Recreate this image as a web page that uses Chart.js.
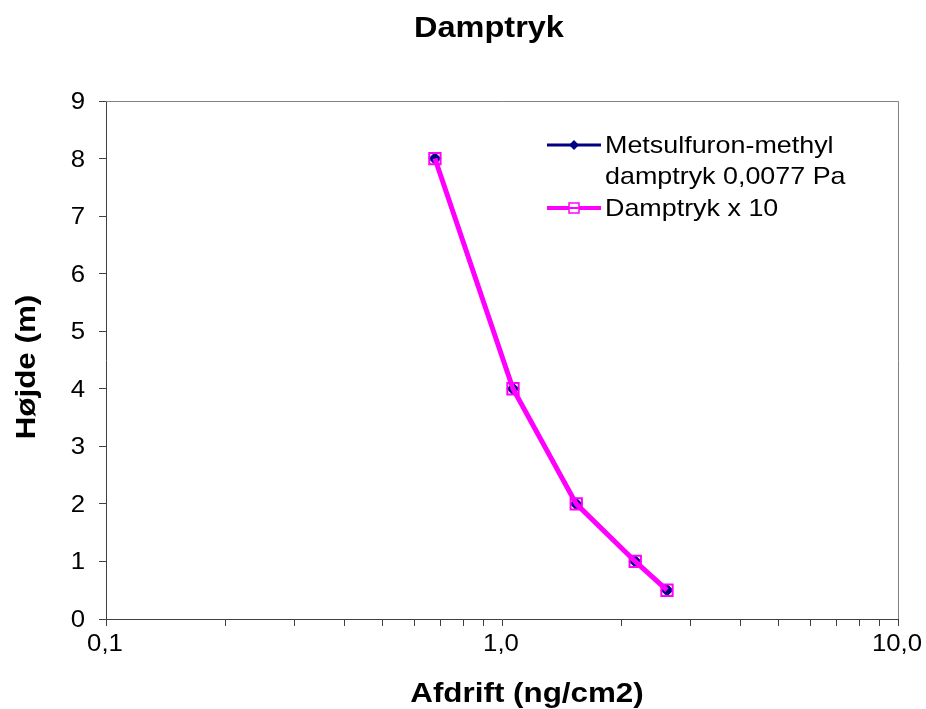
<!DOCTYPE html>
<html>
<head>
<meta charset="utf-8">
<script src="https://cdn.jsdelivr.net/npm/chart.js@4/dist/chart.umd.min.js"></script>
<style>
  html, body { margin: 0; padding: 0; background: #fff; }
  #wrap { width: 926px; height: 709px; }
</style>
</head>
<body>
<div id="wrap"><canvas id="c" width="926" height="709"></canvas></div>
<script>
// Heights (m) and drift values (ng/cm2)
const heights = [0.5, 1, 2, 4, 8];
const driftBase = [2.61, 2.17, 1.54, 1.066, 0.677];
const driftTimes10 = [2.61, 2.17, 1.54, 1.066, 0.677];
const seriesNames = [["Metsulfuron-methyl", "damptryk 0,0077 Pa"], ["Damptryk x 10"]];
const xTickValues = [0.1, 0.2, 0.3, 0.4, 0.5, 0.6, 0.7, 0.8, 0.9, 1, 2, 3, 4, 5, 6, 7, 8, 9, 10];
const xTickLabels = { 0.1: "0,1", 1: "1,0", 10: "10,0" };
const chartTitle = "Damptryk";
const xTitle = "Afdrift (ng/cm2)";
const yTitle = "Højde (m)";

const FONT = "'Liberation Sans', Arial, sans-serif";
const NAVY = "#000080";
const MAGENTA = "#FF00FF";
const SX = 1.12; // the text is set slightly wide

function pts(xs) { return xs.map((x, i) => ({ x: x, y: heights[i] })); }

// draws a string widened horizontally by SX
function wideText(ctx, text, x, y, align, font) {
  ctx.save();
  ctx.font = font;
  ctx.textBaseline = "alphabetic";
  const w = ctx.measureText(text).width * SX;
  let left = x;
  if (align === "center") left = x - w / 2;
  else if (align === "right") left = x - w;
  ctx.translate(left, y);
  ctx.scale(SX, 1);
  ctx.textAlign = "left";
  ctx.fillText(text, 0, 0);
  ctx.restore();
}

// frame, tick labels, titles and legend
const decorations = {
  id: "decorations",
  beforeDatasetsDraw(chart) {
    const { ctx, chartArea: a } = chart;
    ctx.save();
    ctx.strokeStyle = "#808080";
    ctx.lineWidth = 1;
    ctx.beginPath();
    ctx.moveTo(a.left, a.top + 0.5);
    ctx.lineTo(a.right + 0.5, a.top + 0.5);
    ctx.lineTo(a.right + 0.5, a.bottom);
    ctx.stroke();
    ctx.restore();
  },
  afterDraw(chart) {
    const { ctx, chartArea: a } = chart;
    const xs = chart.scales.x, ys = chart.scales.y;
    ctx.save();
    ctx.fillStyle = "#000";
    const tickFont = "23px " + FONT;
    xs.ticks.forEach(t => {
      const lbl = xTickLabels[t.value];
      if (lbl === undefined) return;
      wideText(ctx, lbl, xs.getPixelForValue(t.value) - 1, 651, "center", tickFont);
    });
    ys.ticks.forEach(t => {
      wideText(ctx, String(t.value), a.left - 21, ys.getPixelForValue(t.value) + 8, "right", tickFont);
    });

    wideText(ctx, chartTitle, 489, 37, "center", "bold 29px " + FONT);
    wideText(ctx, xTitle, 527, 702, "center", "bold 28px " + FONT);
    ctx.save();
    ctx.translate(35, 367);
    ctx.rotate(-Math.PI / 2);
    wideText(ctx, yTitle, 0, 0, "center", "bold 28px " + FONT);
    ctx.restore();

    // legend
    const lx0 = 547, lx1 = 601, tx = 605;
    const legFont = "24px " + FONT;
    const mx = (lx0 + lx1) / 2;
    let y = 145;
    ctx.strokeStyle = NAVY;
    ctx.lineWidth = 3;
    ctx.beginPath(); ctx.moveTo(lx0, y); ctx.lineTo(lx1, y); ctx.stroke();
    ctx.fillStyle = NAVY;
    ctx.beginPath();
    ctx.moveTo(mx, y - 5); ctx.lineTo(mx + 5, y); ctx.lineTo(mx, y + 5); ctx.lineTo(mx - 5, y);
    ctx.closePath(); ctx.fill();
    ctx.fillStyle = "#000";
    wideText(ctx, seriesNames[0][0], tx, y + 8, "left", legFont);
    wideText(ctx, seriesNames[0][1], tx, y + 39, "left", legFont);
    y = 208;
    ctx.strokeStyle = MAGENTA;
    ctx.lineWidth = 4;
    ctx.beginPath(); ctx.moveTo(lx0, y); ctx.lineTo(lx1, y); ctx.stroke();
    ctx.fillStyle = "#fff";
    ctx.fillRect(mx - 5, y - 5, 10, 10);
    ctx.strokeStyle = MAGENTA;
    ctx.lineWidth = 1.5;
    ctx.strokeRect(mx - 5, y - 5, 10, 10);
    ctx.beginPath(); ctx.lineWidth = 2; ctx.moveTo(mx - 5, y); ctx.lineTo(mx + 5, y); ctx.stroke();
    ctx.fillStyle = "#000";
    wideText(ctx, seriesNames[1][0], tx, y + 8, "left", legFont);
    ctx.restore();
  }
};

new Chart(document.getElementById("c"), {
  type: "scatter",
  data: {
    datasets: [
      {
        label: seriesNames[0].join(" "),
        data: pts(driftBase),
        showLine: true,
        borderColor: NAVY,
        backgroundColor: NAVY,
        borderWidth: 3,
        pointStyle: "rectRot",
        pointRadius: 6,
        pointBorderWidth: 1,
        order: 2
      },
      {
        label: seriesNames[1][0],
        data: pts(driftTimes10),
        showLine: true,
        borderColor: MAGENTA,
        backgroundColor: "rgba(0,0,0,0)",
        borderWidth: 5,
        pointStyle: "rect",
        pointRadius: 8,
        pointBorderWidth: 2,
        pointBorderColor: MAGENTA,
        order: 1
      }
    ]
  },
  options: {
    responsive: false,
    animation: false,
    devicePixelRatio: 1,
    layout: { padding: { left: 0, top: 101, right: 28, bottom: 0 } },
    plugins: {
      legend: { display: false },
      tooltip: { enabled: false },
      title: { display: false }
    },
    scales: {
      x: {
        type: "logarithmic",
        min: 0.1,
        max: 10,
        afterBuildTicks(scale) {
          scale.ticks = xTickValues.map(v => ({ value: v }));
        },
        afterFit(scale) { scale.height = 90; },
        ticks: {
          autoSkip: false,
          maxRotation: 0,
          color: "rgba(0,0,0,0)",
          font: { family: FONT, size: 19 },
          callback: (v) => xTickLabels[v] !== undefined ? xTickLabels[v] : ""
        },
        grid: {
          drawOnChartArea: false,
          drawTicks: true,
          tickLength: 7,
          color: "#404040"
        },
        border: { color: "#404040", width: 1 }
      },
      y: {
        type: "linear",
        min: 0,
        max: 9,
        afterFit(scale) { scale.width = 106; },
        ticks: {
          stepSize: 1,
          color: "rgba(0,0,0,0)",
          font: { family: FONT, size: 19 }
        },
        grid: {
          drawOnChartArea: false,
          drawTicks: true,
          tickLength: 7,
          color: "#404040"
        },
        border: { color: "#404040", width: 1 }
      }
    }
  },
  plugins: [decorations]
});
</script>
</body>
</html>
